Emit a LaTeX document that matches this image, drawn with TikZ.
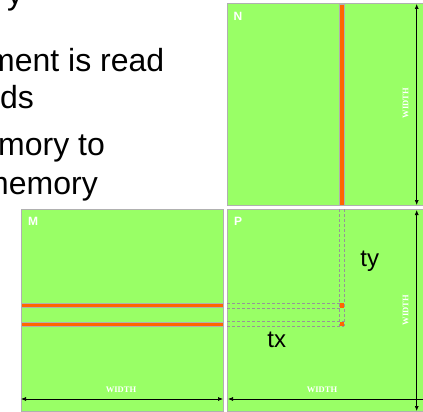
\documentclass[tikz,border=0pt]{standalone}
\usepackage{fontspec}
\setmainfont{Liberation Sans}
\newfontfamily\dimfont{Liberation Serif}
\usetikzlibrary{arrows.meta}

\definecolor{matgreen}{HTML}{99FF66}
\definecolor{rowred}{HTML}{FF6600}
\definecolor{edgegray}{HTML}{B0B0B0}

\tikzset{
	matbox/.style={draw=edgegray, fill=matgreen, line width=1pt},
	stripe/.style={draw=edgegray, fill=rowred, line width=0.6pt},
	guide/.style={draw=edgegray!85!black, dash pattern=on 3pt off 2pt, line width=0.6pt},
	dimarrow/.style={{Latex[length=5pt,width=4pt]}-{Latex[length=5pt,width=4pt]}, line width=0.7pt},
	dimlabel/.style={text=white, font=\dimfont\bfseries\fontsize{8.5}{9}\selectfont, inner sep=0pt},
	matlabel/.style={text=white, font=\bfseries\fontsize{12}{12}\selectfont, inner sep=0pt},
	bodytext/.style={font=\fontsize{32}{37}\selectfont, anchor=base west, inner sep=0pt},
	idxtext/.style={font=\fontsize{24}{24}\selectfont, anchor=base, inner sep=0pt},
}

\begin{document}
\begin{tikzpicture}[x=1pt, y=-1pt]
		\useasboundingbox (0, 0) rectangle (423, 412);
		\clip (0, 0) rectangle (423, 412);
		
		\node[bodytext] (t0) at (7, 5) {y};
		\node[bodytext] (t1) at (-12, 71) {ment is read};
		\node[bodytext] (t2) at (0, 108) {ds};
		\node[bodytext] (t3) at (-2, 155) {mory to};
		\node[bodytext] (t4) at (-18, 194) {memory};
		
		\draw[matbox] (227, 4) rectangle (425, 205);
		\draw[matbox] (21, 209) rectangle (223, 411);
		\draw[matbox] (227, 209) rectangle (425, 411);
		
		\draw[stripe] (339.5, 4) rectangle (344, 205);
		\draw[stripe] (21, 303.3) rectangle (223, 307.5);
		\draw[stripe] (21, 322) rectangle (223, 326);
		
		\draw[guide] (339.5, 209) -- (339.5, 326);
		\draw[guide] (344, 209) -- (344, 326);
		\draw[guide] (227, 303.3) -- (340, 303.3);
		\draw[guide] (227, 308.7) -- (340, 308.7);
		\draw[guide] (227, 321.7) -- (344, 321.7);
		\draw[guide] (227, 326) -- (344, 326);
		
		\fill[rowred] (340, 303.3) rectangle (344, 307.8);
		\fill[rowred] (340, 321.8) rectangle (344, 326);
		
		\coordinate (nTop) at (416.7, 4);
		\coordinate (nBot) at (416.7, 205);
		\coordinate (pTop) at (416.7, 210);
		\coordinate (pBot) at (416.7, 411);
		\coordinate (mLeft) at (21, 399);
		\coordinate (mRight) at (223, 399);
		\coordinate (pLeft) at (228, 399);
		\coordinate (pRight) at (432, 399);
		
		\draw[dimarrow] (nTop) -- (nBot);
		\draw[dimarrow] (pTop) -- (pBot);
		\draw[dimarrow] (mLeft) -- (mRight);
		\draw[dimarrow] (pLeft) -- (pRight);
		
		\node[matlabel] (nName) at (238, 16) {N};
		\node[matlabel] (mName) at (33, 221) {M};
		\node[matlabel] (pName) at (238, 221) {P};
		
		\node[dimlabel] (mWidth) at (121, 390) {WIDTH};
		\node[dimlabel] (pWidth) at (322, 390) {WIDTH};
		\node[dimlabel, rotate=90] (nHeight) at (405.7, 103) {WIDTH};
		\node[dimlabel, rotate=90] (pHeight) at (405.7, 310) {WIDTH};
		
		\node[idxtext] (tx) at (276.7, 347.7) {tx};
		\node[idxtext] (ty) at (369.7, 266.7) {ty};
	\end{tikzpicture}
\end{document}
